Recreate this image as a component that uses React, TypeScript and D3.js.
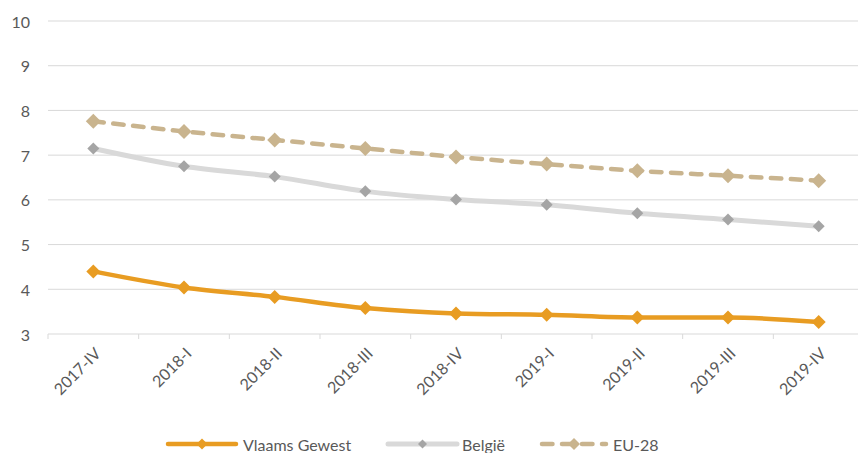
import { useEffect, useRef } from "react";
import * as d3 from "d3";

const categories = ["2017-IV", "2018-I", "2018-II", "2018-III", "2018-IV", "2019-I", "2019-II", "2019-III", "2019-IV"];
const vlaams = [4.4, 4.04, 3.83, 3.58, 3.46, 3.43, 3.37, 3.37, 3.27];
const belgie = [7.15, 6.75, 6.52, 6.19, 6.01, 5.89, 5.7, 5.56, 5.41];
const eu28 = [7.76, 7.53, 7.34, 7.15, 6.96, 6.8, 6.65, 6.54, 6.43];
const yTicks = [3, 4, 5, 6, 7, 8, 9, 10];

type Series = {
  name: string;
  values: number[];
  color: string;
  marker: string;
  width: number;
  msize: number;
  dash?: string;
};

const series: Series[] = [
  { name: "Vlaams Gewest", values: vlaams, color: "#E89C22", marker: "#E89C22", width: 4.5, msize: 7 },
  { name: "België", values: belgie, color: "#D9D9D9", marker: "#A5A5A5", width: 5, msize: 6 },
  { name: "EU-28", values: eu28, color: "#C9B48E", marker: "#C9B48E", width: 4.5, msize: 7.5, dash: "10.5,9.5" },
];

const W = 858;
const H = 453;
const FONT = "Lato, 'Open Sans', sans-serif";
const TEXT = "#595959";

export default function App() {
  const ref = useRef<SVGSVGElement>(null);

  useEffect(() => {
    if (!ref.current) return;
    const svg = d3.select(ref.current);
    svg.selectAll("*").remove();

    const left = 48;
    const right = 864;
    const top = 21;
    const bottom = 334;

    const x = d3.scaleBand<string>().domain(categories).range([left, right]);
    const y = d3.scaleLinear().domain([3, 10]).range([bottom, top]);
    const cx = (c: string) => (x(c) ?? 0) + x.bandwidth() / 2;

    // gridlines + y labels
    yTicks.forEach((t) => {
      svg.append("line")
        .attr("x1", left).attr("x2", right)
        .attr("y1", y(t)).attr("y2", y(t))
        .attr("stroke", "#D9D9D9").attr("stroke-width", 1);
      svg.append("text")
        .attr("x", 30).attr("y", y(t))
        .attr("text-anchor", "end")
        .attr("dominant-baseline", "central")
        .attr("font-family", FONT).attr("font-size", 16)
        .attr("fill", TEXT)
        .text(t);
    });

    // tick marks on x axis
    categories.forEach((c) => {
      const x0 = x(c) ?? 0;
      svg.append("line")
        .attr("x1", x0).attr("x2", x0)
        .attr("y1", bottom).attr("y2", bottom + 5)
        .attr("stroke", "#D9D9D9").attr("stroke-width", 1);
    });

    // x labels
    categories.forEach((c) => {
      svg.append("text")
        .attr("transform", `translate(${cx(c) + 4},${bottom + 16}) rotate(-45)`)
        .attr("text-anchor", "end")
        .attr("dominant-baseline", "central")
        .attr("font-family", FONT).attr("font-size", 16)
        .attr("fill", TEXT)
        .text(c);
    });

    const line = d3.line<number>()
      .x((_, i) => cx(categories[i]))
      .y((v) => y(v))
      .curve(d3.curveMonotoneX);

    const diamond = (g: d3.Selection<SVGGElement, unknown, null, undefined>, px: number, py: number, s: number, fill: string) => {
      g.append("path")
        .attr("d", `M${px},${py - s}L${px + s},${py}L${px},${py + s}L${px - s},${py}Z`)
        .attr("fill", fill);
    };

    // draw in reverse order so Vlaams is on top
    [...series].reverse().forEach((s) => {
      const g = svg.append("g");
      g.append("path")
        .attr("d", line(s.values) ?? "")
        .attr("fill", "none")
        .attr("stroke", s.color)
        .attr("stroke-width", s.width)
        .attr("stroke-linecap", s.dash ? "round" : "butt")
        .attr("stroke-dasharray", s.dash ?? null);
      s.values.forEach((v, i) => diamond(g, cx(categories[i]), y(v), s.msize, s.marker));
    });

    // legend
    const ly = 444;
    const legendItems = [
      { s: series[0], x1: 168, x2: 236, tx: 243 },
      { s: series[1], x1: 388, x2: 457, tx: 462 },
      { s: series[2], x1: 542, x2: 606, tx: 613 },
    ];
    legendItems.forEach(({ s, x1, x2, tx }) => {
      const g = svg.append("g");
      g.append("line")
        .attr("x1", x1).attr("x2", x2)
        .attr("y1", ly).attr("y2", ly)
        .attr("stroke", s.color)
        .attr("stroke-width", s.width)
        .attr("stroke-linecap", "round")
        .attr("stroke-dasharray", s.dash ?? null);
      diamond(g, (x1 + x2) / 2, ly, s.msize - 1.5, s.marker);
      g.append("text")
        .attr("x", tx).attr("y", ly)
        .attr("dominant-baseline", "central")
        .attr("font-family", FONT).attr("font-size", 16)
        .attr("fill", TEXT)
        .text(s.name);
    });
  }, []);

  return (
    <div style={{ position: "absolute", left: 0, top: 0, width: W, height: H, overflow: "hidden" }}>
      <svg ref={ref} width={W} height={H} style={{ display: "block", background: "white" }} />
    </div>
  );
}
